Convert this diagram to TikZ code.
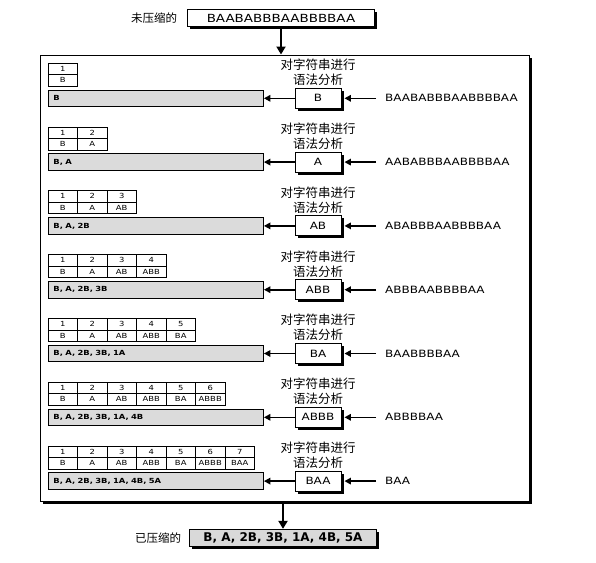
\documentclass[tikz,border=0pt]{standalone}
\usepackage{fontspec}
\newfontfamily\lat[FakeStretch=1.2]{DejaVu Sans}
\newfontfamily\latn{DejaVu Sans}
\newfontfamily\cjk{Noto Sans CJK SC}
\usetikzlibrary{arrows.meta,shadows}
\begin{document}
\begin{tikzpicture}[x=1pt,y=-1pt,
  shad/.style={drop shadow={shadow xshift=2.5pt,shadow yshift=-2.5pt,fill=black,opacity=1}},
  cell/.style={draw,line width=0.4pt,minimum width=29.5pt,minimum height=11.5pt,inner sep=0pt,font=\lat\fontsize{7}{8}\selectfont},
  bar/.style={draw,line width=0.9pt,fill=gray!28,minimum height=16.5pt,text width=205pt,inner xsep=5pt,inner ysep=0pt,align=left,font=\lat\bfseries\fontsize{7}{8}\selectfont},
  symbox/.style={draw,line width=0.9pt,fill=white,shad,minimum width=46pt,minimum height=20pt,inner sep=0pt,font=\lat\fontsize{10}{12}\selectfont},
  parse/.style={align=center,font=\cjk\fontsize{12.5}{15}\selectfont,inner sep=0pt},
  instr/.style={anchor=west,inner xsep=9pt,inner ysep=0pt,font=\lat\fontsize{10}{12}\selectfont},
  rowarrow/.style={line width=1.6pt,-{Triangle[length=6.5pt,width=6.5pt]}},
  bigarrow/.style={line width=2.5pt,-{Triangle[length=8pt,width=9pt]}},
  cjklabel/.style={font=\cjk\fontsize{11.5}{13}\selectfont,inner sep=0pt}
]
\useasboundingbox (0,0) rectangle (596,562);

% outer frame
\node[draw,line width=1pt,fill=white,shad,minimum width=489pt,minimum height=446pt,inner sep=0pt] (frame) at (284.5,278) {};

% source string
\node[draw,line width=0.8pt,fill=white,shad,minimum width=187pt,minimum height=17pt,inner sep=0pt,font=\lat\fontsize{11.2}{13}\selectfont] (src) at (281,18.3) {BAABABBBAABBBBAA};
\node[cjklabel] (srclab) at (154,18.3) {未压缩的};
\draw[bigarrow] (src.south) -- (src.south |- frame.north);

% rows
\foreach \i/\sym/\inp/\out in {
  1/B/BAABABBBAABBBBAA/{B},
  2/A/AABABBBAABBBBAA/{B, A},
  3/AB/ABABBBAABBBBAA/{B, A, 2B},
  4/ABB/ABBBAABBBBAA/{B, A, 2B, 3B},
  5/BA/BAABBBBAA/{B, A, 2B, 3B, 1A},
  6/ABBB/ABBBBAA/{B, A, 2B, 3B, 1A, 4B},
  7/BAA/BAA/{B, A, 2B, 3B, 1A, 4B, 5A}}
{
  \pgfmathsetmacro\dy{63.8*(\i-1)}
  \foreach \j/\e in {1/B,2/A,3/AB,4/ABB,5/BA,6/ABBB,7/BAA}{
    \ifnum\j>\i\relax\else
      \node[cell] (c\i-\j-n) at ({48+29.5*(\j-0.5)},{68.75+\dy}) {\j};
      \node[cell] (c\i-\j-e) at ({48+29.5*(\j-0.5)},{80.25+\dy}) {\e};
    \fi
  }
  \node[bar,anchor=west] (bar\i) at (48,{98.3+\dy}) {\out};
  \node[symbox] (box\i) at (318,{98.3+\dy}) {\sym};
  \node[parse] (parse\i) at (318,{72.5+\dy}) {对字符串进行\\语法分析};
  \node[instr] (in\i) at (376,{98.3+\dy}) {\inp};
  \draw[rowarrow,shorten >=3pt] (in\i.west) -- (box\i.east);
  \draw[rowarrow] (box\i.west) -- (bar\i.east);
}

% result
\node[draw,line width=0.8pt,fill=gray!30,shad,minimum width=187pt,minimum height=17.5pt,inner sep=0pt,font=\latn\bfseries\fontsize{12}{14}\selectfont] (res) at (283,538) {B, A, 2B, 3B, 1A, 4B, 5A};
\node[cjklabel] (reslab) at (158,538.3) {已压缩的};
\draw[bigarrow] (res.north |- frame.south) -- (res.north);
\end{tikzpicture}
\end{document}
